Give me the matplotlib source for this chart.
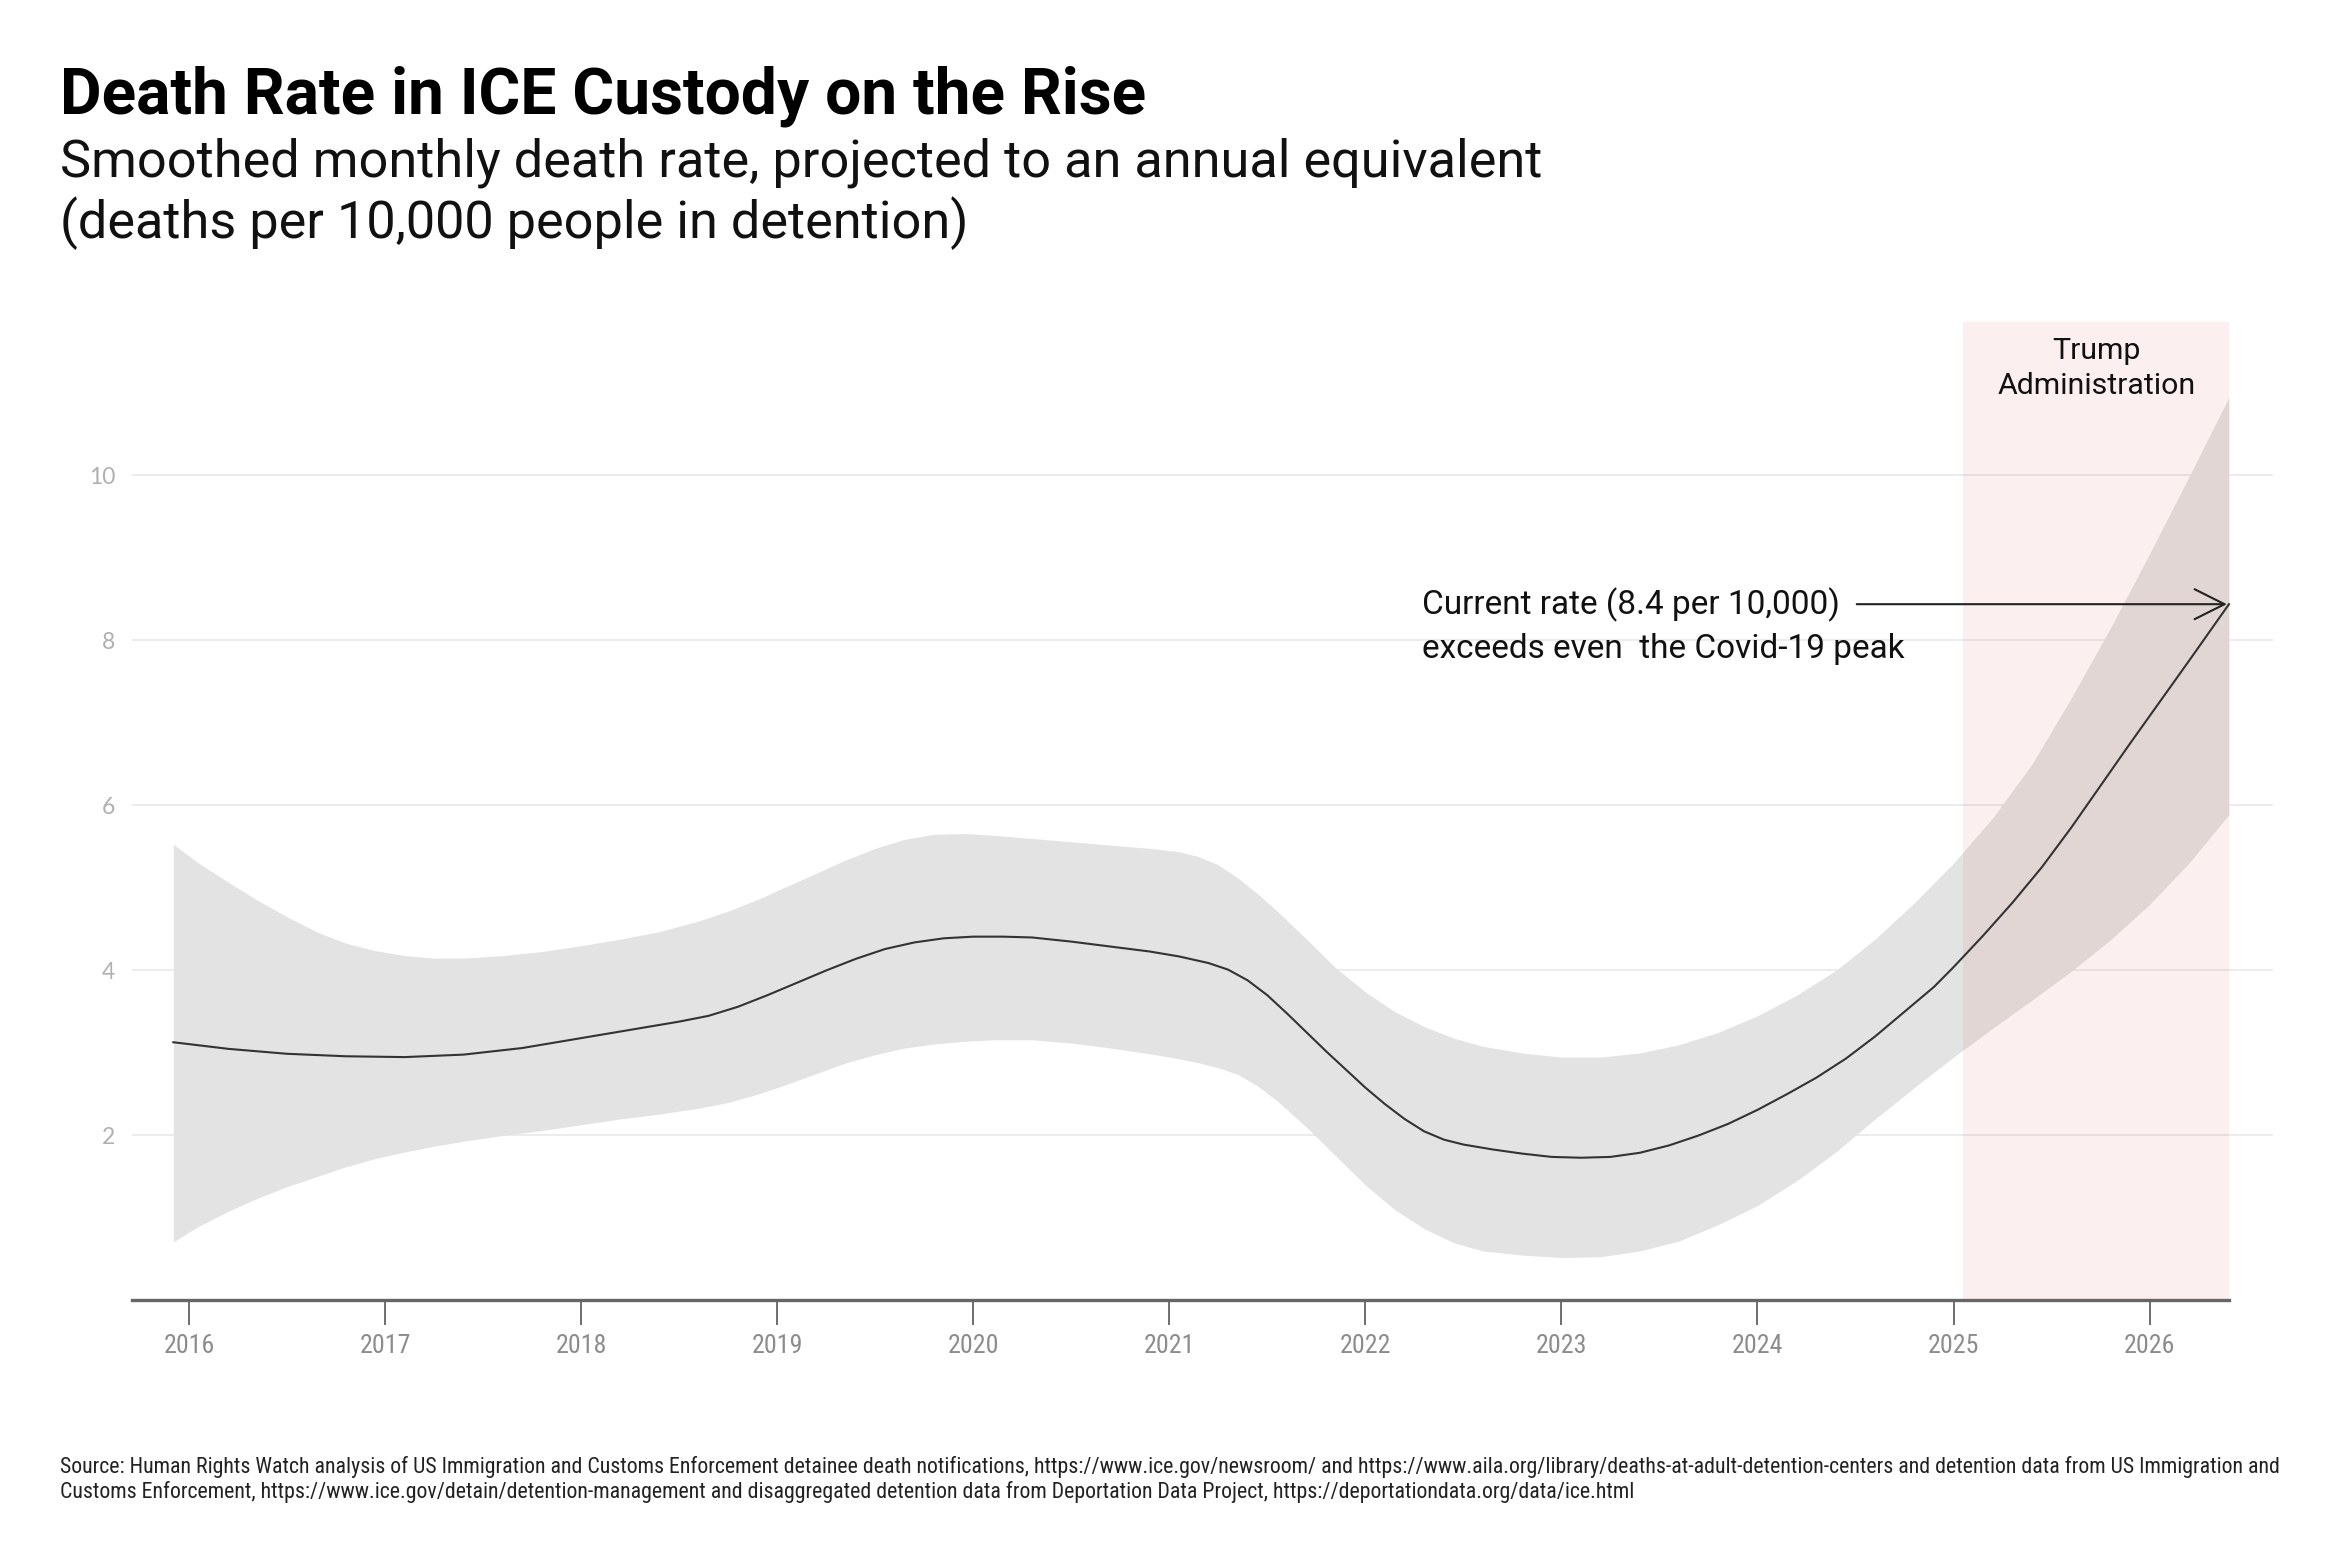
import matplotlib
matplotlib.use("Agg")
import matplotlib.pyplot as plt
from matplotlib import font_manager

# smoothed rate (annualised deaths per 10,000 detained)
years = [2015.92, 2016.2, 2016.5, 2016.8, 2017.1, 2017.4, 2017.7, 2018.0, 2018.3, 2018.5,
         2018.65, 2018.8, 2018.95, 2019.1, 2019.25, 2019.4, 2019.55, 2019.7, 2019.85, 2020.0,
         2020.15, 2020.3, 2020.5, 2020.7, 2020.9, 2021.05, 2021.2, 2021.3, 2021.4, 2021.5,
         2021.6, 2021.7, 2021.8, 2021.9, 2022.0, 2022.1, 2022.2, 2022.3, 2022.4, 2022.5,
         2022.65, 2022.8, 2022.95, 2023.1, 2023.25, 2023.4, 2023.55, 2023.7, 2023.85, 2024.0,
         2024.15, 2024.3, 2024.45, 2024.6, 2024.75, 2024.9, 2025.0, 2025.15, 2025.3, 2025.45,
         2025.6, 2025.75, 2025.9, 2026.05, 2026.2, 2026.405]
rate = [3.13, 3.05, 2.99, 2.96, 2.95, 2.98, 3.06, 3.18, 3.30, 3.38,
        3.45, 3.56, 3.70, 3.85, 4.0, 4.14, 4.26, 4.34, 4.39, 4.41,
        4.41, 4.40, 4.35, 4.29, 4.23, 4.17, 4.09, 4.01, 3.88, 3.70,
        3.48, 3.25, 3.02, 2.80, 2.58, 2.38, 2.20, 2.05, 1.95, 1.89,
        1.83, 1.78, 1.74, 1.73, 1.74, 1.79, 1.88, 2.0, 2.14, 2.31,
        2.5, 2.7, 2.93, 3.2, 3.5, 3.8, 4.04, 4.42, 4.82, 5.25,
        5.73, 6.24, 6.75, 7.25, 7.75, 8.44]

band_years = [2015.92, 2016.05, 2016.2, 2016.35, 2016.5, 2016.65, 2016.8, 2016.95, 2017.1, 2017.25,
              2017.4, 2017.6, 2017.8, 2018.0, 2018.2, 2018.4, 2018.6, 2018.75, 2018.9, 2019.05,
              2019.2, 2019.35, 2019.5, 2019.65, 2019.8, 2019.95, 2020.1, 2020.3, 2020.5, 2020.7,
              2020.9, 2021.05, 2021.15, 2021.25, 2021.35, 2021.45, 2021.55, 2021.7, 2021.85, 2022.0,
              2022.15, 2022.3, 2022.45, 2022.6, 2022.8, 2023.0, 2023.2, 2023.4, 2023.6, 2023.8,
              2024.0, 2024.2, 2024.4, 2024.6, 2024.8, 2025.0, 2025.2, 2025.4, 2025.6, 2025.8,
              2026.0, 2026.2, 2026.405]
upper = [5.53, 5.3, 5.07, 4.85, 4.65, 4.47, 4.33, 4.24, 4.18, 4.15,
         4.15, 4.18, 4.23, 4.3, 4.38, 4.47, 4.6, 4.72, 4.86, 5.02,
         5.18, 5.34, 5.48, 5.59, 5.65, 5.66, 5.64, 5.6, 5.56, 5.52,
         5.48, 5.44, 5.38, 5.28, 5.12, 4.93, 4.72, 4.38, 4.03, 3.74,
         3.5, 3.32, 3.18, 3.08, 3.0, 2.95, 2.95, 3.0, 3.1, 3.25,
         3.45, 3.7, 4.0, 4.38, 4.82, 5.3, 5.85, 6.5, 7.3, 8.15,
         9.05, 9.98, 10.95]
lower = [0.71, 0.9, 1.08, 1.24, 1.38, 1.5, 1.62, 1.72, 1.8, 1.87,
         1.93, 2.0, 2.06, 2.13, 2.2, 2.26, 2.33, 2.4, 2.5, 2.62,
         2.75, 2.88, 2.98, 3.06, 3.11, 3.14, 3.16, 3.16, 3.12, 3.06,
         2.99, 2.93, 2.88, 2.82, 2.74, 2.6, 2.42, 2.1, 1.75, 1.4,
         1.1, 0.87, 0.7, 0.6, 0.55, 0.52, 0.53, 0.6, 0.72, 0.92,
         1.15, 1.45, 1.8, 2.2, 2.58, 2.95, 3.3, 3.64, 3.99, 4.37,
         4.8, 5.3, 5.89]

tick_years = list(range(2016, 2027))
y_ticks = [2, 4, 6, 8, 10]
trump_start, data_end = 2025.05, 2026.405

title = "Death Rate in ICE Custody on the Rise"
subtitle = ["Smoothed monthly death rate, projected to an annual equivalent",
            "(deaths per 10,000 people in detention)"]
source = ["Source: Human Rights Watch analysis of US Immigration and Customs Enforcement detainee death notifications, "
          "https://www.ice.gov/newsroom/ and https://www.aila.org/library/deaths-at-adult-detention-centers and detention data from US Immigration and",
          "Customs Enforcement, https://www.ice.gov/detain/detention-management and disaggregated detention data from "
          "Deportation Data Project, https://deportationdata.org/data/ice.html"]

# pick fonts that exist
names = {f.name for f in font_manager.fontManager.ttflist}
def pick(*cands):
    for c in cands:
        if c in names:
            return c
    return "DejaVu Sans"
narrow = pick("Liberation Sans Narrow", "Roboto Condensed", "Roboto")
main = pick("Roboto", "Open Sans")
wide = pick("Lato", "Open Sans")

fig = plt.figure(figsize=(15.68, 10.387), dpi=150)
ax = fig.add_axes([0.0561, 0.1653, 0.9101, 0.6277])

ax.fill_between(band_years, lower, upper, color="#e3e3e3", lw=0, zorder=1)
ax.axvspan(trump_start, data_end, color="#d9534f", alpha=0.09, lw=0, zorder=2)
ax.plot(years, rate, color="#333333", lw=1.0, zorder=3)

ax.set_xlim(2015.709, 2026.627)
ax.set_ylim(0, 11.855)
for s in ["top", "right", "left"]:
    ax.spines[s].set_visible(False)
ax.spines["bottom"].set_bounds(2015.709, data_end)
ax.spines["bottom"].set_color("#666666")
ax.spines["bottom"].set_linewidth(1.6)

ax.set_xticks(tick_years)
ax.set_xticklabels([str(y) for y in tick_years], fontfamily=narrow, fontsize=12.5, color="#8c8c8c")
ax.tick_params(axis="x", length=12, width=0.8, color="#555555", pad=4)
ax.set_yticks(y_ticks)
ax.set_yticklabels([str(v) for v in y_ticks], fontfamily=wide, fontsize=11, color="#b0b0b0")
ax.tick_params(axis="y", length=0, pad=8)
ax.grid(axis="y", color="#ececec", lw=1.0)
ax.set_axisbelow(True)

# annotations
ax.annotate("Current rate (8.4 per 10,000)", xy=(data_end, 8.44), xytext=(2022.29, 8.44),
            fontfamily=main, fontsize=16, color="#111111", va="center", ha="left",
            arrowprops=dict(arrowstyle="->,head_length=0.9,head_width=0.45", color="#222222", lw=1.0,
                            shrinkA=6, shrinkB=1))
ax.text(2022.29, 7.9, "exceeds even  the Covid-19 peak", fontfamily=main, fontsize=16,
        color="#111111", va="center", ha="left")
ax.text((trump_start + data_end) / 2, 11.3, "Trump\nAdministration", fontfamily=main, fontsize=14.5,
        color="#111111", ha="center", va="center", linespacing=1.3)

t1 = fig.text(0.0255, 0.927, title, fontfamily=main, fontweight="bold", fontsize=26, color="#000000")
s1 = fig.text(0.0255, 0.887, subtitle[0], fontfamily=main, fontsize=20, color="#111111")
s2 = fig.text(0.0255, 0.847, subtitle[1], fontfamily=main, fontsize=20, color="#111111")
f1 = fig.text(0.0255, 0.0545, source[0], fontfamily=narrow, fontsize=8, color="#222222")
f2 = fig.text(0.0255, 0.0385, source[1], fontfamily=narrow, fontsize=8, color="#222222")

# scale the header / footer text to the widths in the original
fig.canvas.draw()
r = fig.canvas.get_renderer()
for t, w in [(t1, 1086), (s1, 1478), (f1, 2223)]:
    k = w / t.get_window_extent(r).width
    t.set_fontsize(t.get_fontsize() * k)
    if t is s1:
        s2.set_fontsize(t.get_fontsize())
    if t is f1:
        f2.set_fontsize(t.get_fontsize())

fig.savefig("out.png", dpi=150)
